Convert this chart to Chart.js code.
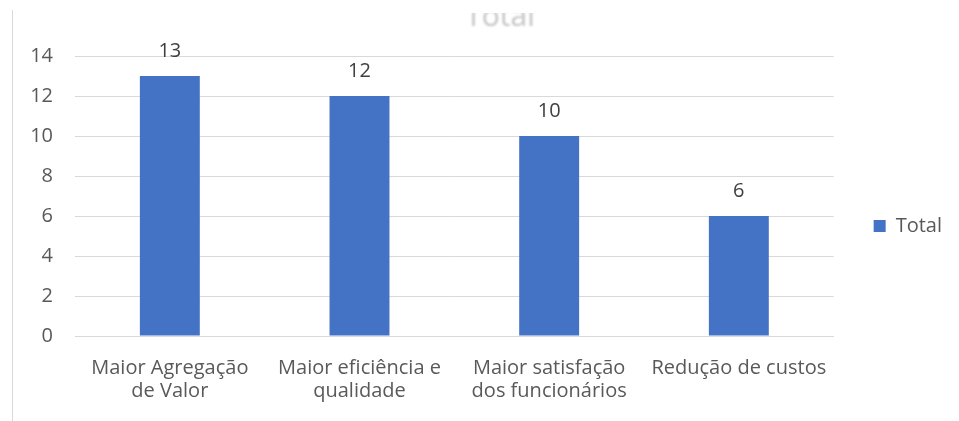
<!DOCTYPE html>
<html lang="pt">
<head>
<meta charset="utf-8">
<title>Total</title>
<script src="https://cdn.jsdelivr.net/npm/chart.js@4.4.1/dist/chart.umd.min.js"></script>
<style>
    html, body {
        margin: 0;
        width: 959px;
        height: 421px;
        overflow: hidden;
        background: #ffffff;
        font-family: "Open Sans", "Noto Sans", sans-serif;
    }
    /* thin frame line on the left of the chart area */
    #frame {
        position: absolute;
        left: 12px;
        top: 10px;
        width: 1px;
        height: 411px;
        background: #d9d9d9;
    }
    #chartTitle {
        position: absolute;
        left: 0;
        top: 0;
        width: 1000px;
        text-align: center;
        font-size: 30px;
        line-height: 30px;
        color: #c4c4c4;
        clip-path: inset(13px 0 0 0);
        filter: blur(0.8px);
    }
    #chartBox {
        position: absolute;
        left: 0;
        top: 0;
        width: 959px;
        height: 452px;
    }
</style>
</head>
<body>
<div id="frame"></div>
<div id="chartTitle">Total</div>
<div id="chartBox"><canvas id="totalChart"></canvas></div>

<script>
// Data
const categories = [
    ['Maior Agregação', 'de Valor'],
    ['Maior eficiência e', 'qualidade'],
    ['Maior satisfação', 'dos funcionários'],
    'Redução de custos'
];
const totals = [13, 12, 10, 6];
const seriesName = 'Total';
const yMax = 14;
const yStep = 2;

const BAR_COLOR = '#4472C4';
const TEXT_COLOR = '#595959';
const GRID_COLOR = '#d9d9d9';
const FONT = { family: '"Open Sans", "Noto Sans", sans-serif', size: 20, lineHeight: 1.15 };

// Draws the value above each bar
const barValueLabels = {
    id: 'barValueLabels',
    afterDatasetsDraw(chart) {
        const ctx = chart.ctx;
        const values = chart.data.datasets[0].data;
        ctx.save();
        ctx.font = `${FONT.size}px ${FONT.family}`;
        ctx.fillStyle = '#404040';
        ctx.textAlign = 'center';
        ctx.textBaseline = 'alphabetic';
        chart.getDatasetMeta(0).data.forEach((bar, i) => {
            ctx.fillText(String(values[i]), bar.x, bar.y - 19);
        });
        ctx.restore();
    }
};

const totalChart = new Chart(document.getElementById('totalChart'), {
    type: 'bar',
    data: {
        labels: categories,
        datasets: [{
            label: seriesName,
            data: totals,
            backgroundColor: BAR_COLOR,
            borderWidth: 0,
            categoryPercentage: 1,
            barPercentage: 0.316
        }]
    },
    options: {
        responsive: true,
        maintainAspectRatio: false,
        animation: false,
        layout: {
            padding: { top: 0, right: 7, bottom: 0, left: 0 }
        },
        plugins: {
            // empty title block: reserves the band above the plot (heading is in the page)
            title: {
                display: true,
                text: '',
                font: { size: 20, lineHeight: 1.2 },
                padding: { top: 16, bottom: 16 }
            },
            tooltip: { enabled: false },
            legend: {
                position: 'right',
                align: 'center',
                labels: {
                    boxWidth: 12,
                    boxHeight: 12,
                    padding: 40,
                    color: TEXT_COLOR,
                    font: FONT
                }
            }
        },
        scales: {
            x: {
                grid: { display: false },
                border: { display: true, color: GRID_COLOR },
                ticks: {
                    color: TEXT_COLOR,
                    font: FONT,
                    padding: 13,
                    maxRotation: 0,
                    autoSkip: false
                },
                afterFit(scale) {
                    scale.height = 116;
                }
            },
            y: {
                min: 0,
                max: yMax,
                border: { display: false },
                grid: { color: GRID_COLOR, drawTicks: false },
                ticks: {
                    stepSize: yStep,
                    color: TEXT_COLOR,
                    font: FONT,
                    padding: 22
                },
                afterFit(scale) {
                    scale.width = 75;
                }
            }
        }
    },
    plugins: [barValueLabels]
});
</script>
</body>
</html>
